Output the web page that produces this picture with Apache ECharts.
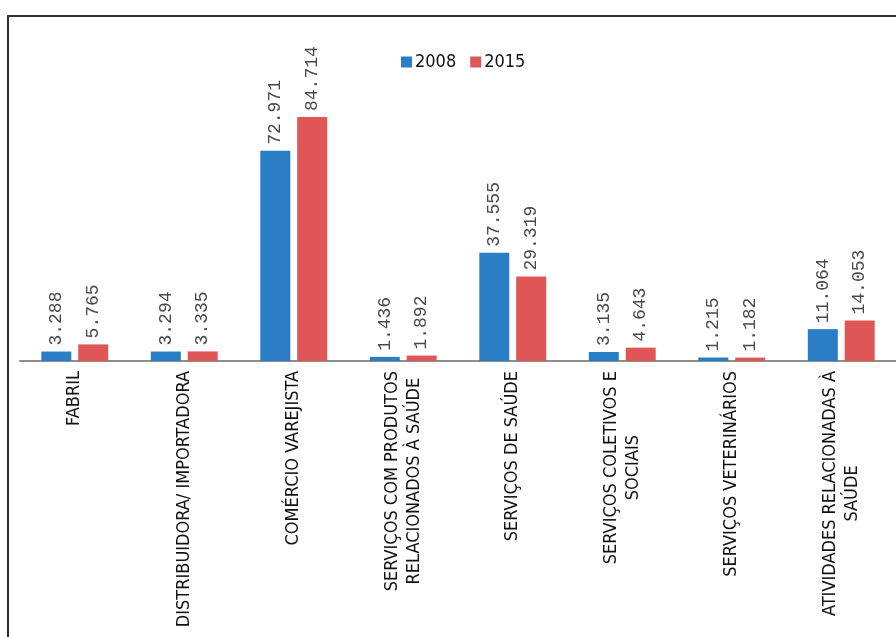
<!DOCTYPE html>
<html><head><meta charset="utf-8">
<script src="https://cdn.jsdelivr.net/npm/echarts@6/dist/echarts.min.js"></script>
<style>html,body{margin:0;padding:0;background:#fff;}#c{width:896px;height:637px;}</style>
</head><body><div id="c"></div>
<script>
const categories = [
  ["FABRIL"],
  ["DISTRIBUIDORA/ IMPORTADORA"],
  ["COMÉRCIO VAREJISTA"],
  ["SERVIÇOS COM PRODUTOS", "RELACIONADOS À SAÚDE"],
  ["SERVIÇOS DE SAÚDE"],
  ["SERVIÇOS COLETIVOS E", "SOCIAIS"],
  ["SERVIÇOS VETERINÁRIOS"],
  ["ATIVIDADES RELACIONADAS À", "SAÚDE"]
];
const seriesNames = ["2008", "2015"];
const values2008 = [3.288, 3.294, 72.971, 1.436, 37.555, 3.135, 1.215, 11.064];
const values2015 = [5.765, 3.335, 84.714, 1.892, 29.319, 4.643, 1.182, 14.053];

const chart = echarts.init(document.getElementById('c'), null, {renderer: 'canvas'});
const catKeys = categories.map(c => c.join('\n'));
const labelFont = '"Liberation Sans Narrow","Arial Narrow","DejaVu Sans Condensed",sans-serif';
const valFont = '"Liberation Mono","DejaVu Sans Mono",monospace';
const fmtVal = p => p.value.toFixed(3);
chart.setOption({
  animation: false,
  graphic: [{
    type: 'rect', shape: {x: 8, y: 16, width: 1000, height: 1000},
    style: {fill: 'none', stroke: '#333333', lineWidth: 2}, silent: true, z: 100
  }],
  legend: {
    top: 48, left: 396, itemWidth: 11, itemHeight: 11, itemGap: 14,
    icon: 'rect',
    textStyle: {fontFamily: labelFont, fontSize: 18, color: '#111', padding: [0,0,0,-2]},
    data: seriesNames
  },
  grid: {left: 20, top: 73, width: 880, height: 288, containLabel: false},
  xAxis: {
    type: 'category', data: catKeys,
    axisLine: {lineStyle: {color: '#8c8c8c', width: 2}},
    axisTick: {show: false},
    axisLabel: {
      rotate: 90, interval: 0, margin: 10,
      formatter: v => v.split('\n').map(s => '{a|' + s + '}').join('\n'),
      rich: {a: {align: 'center', fontFamily: labelFont, fontSize: 18, color: '#111', lineHeight: 22}}
    }
  },
  yAxis: {type: 'value', min: 0, max: 100, show: false, splitLine: {show: false}},
  series: [
    {name: seriesNames[0], type: 'bar', data: values2008, barWidth: 30, barGap: '23%',
     itemStyle: {color: '#2A7EC5'},
     label: {show: true, position: 'top', rotate: 90, align: 'left', verticalAlign: 'middle', distance: 6,
       formatter: fmtVal, fontFamily: valFont, fontSize: 18, color: '#4a4a4a'}},
    {name: seriesNames[1], type: 'bar', data: values2015, barWidth: 30,
     itemStyle: {color: '#E05656'},
     label: {show: true, position: 'top', rotate: 90, align: 'left', verticalAlign: 'middle', distance: 6,
       formatter: fmtVal, fontFamily: valFont, fontSize: 18, color: '#4a4a4a'}}
  ]
});
</script></body></html>
